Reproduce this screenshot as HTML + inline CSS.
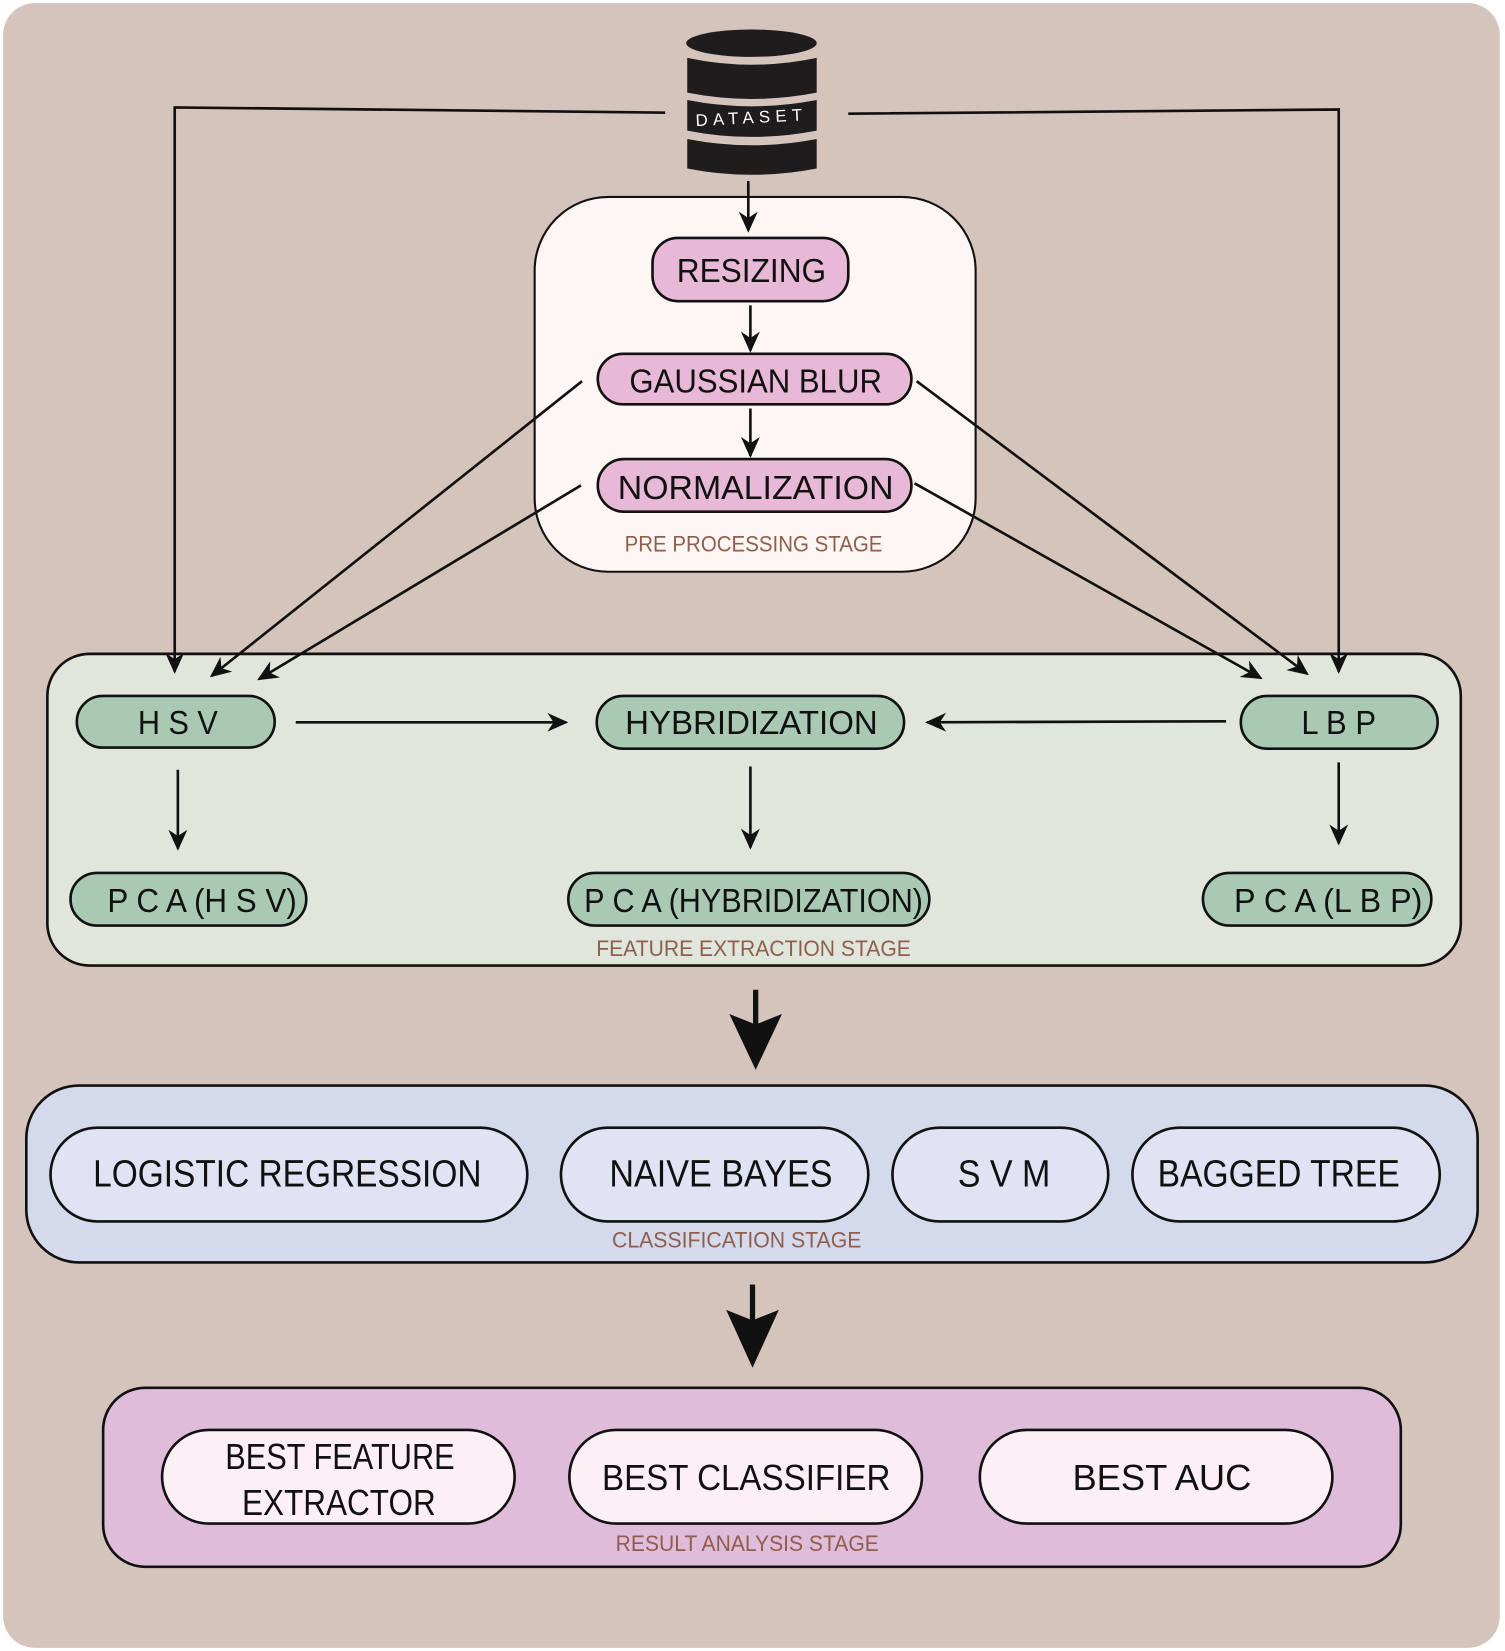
<!DOCTYPE html>
<html><head><meta charset="utf-8"><style>html,body{margin:0;padding:0;background:#fff}svg{display:block}</style></head>
<body>
<svg width="1505" height="1651" viewBox="0 0 1430 1568" preserveAspectRatio="none" xmlns="http://www.w3.org/2000/svg" font-family="Liberation Sans, sans-serif">
<defs>
<marker id="a" viewBox="0 0 20 20" refX="18" refY="10" markerWidth="20" markerHeight="20" markerUnits="userSpaceOnUse" orient="auto">
<path d="M0,1 L20,10 L0,19 L6,10 Z" fill="#111"/></marker>
</defs>
<rect x="3" y="3" width="1422" height="1562" rx="30" fill="#d4c4bc"/>
<g fill="#1e1c1c">
<ellipse cx="714" cy="41" rx="62" ry="13"/>
<path d="M653,55 Q714,68 776,55 L776,88 Q714,100 653,88 Z"/>
<path d="M653,95 Q714,107 776,95 L776,124 Q714,136 653,124 Z"/>
<path d="M653,132 Q714,144 776,132 L776,160 Q714,172 653,160 Z"/>
</g>
<text x="714" y="117" font-size="16" fill="#fff" text-anchor="middle" letter-spacing="5" transform="rotate(-3 714 112)">DATASET</text>
<rect x="508" y="187" width="419" height="356" rx="70" fill="#fdf6f2" stroke="#111" stroke-width="2"/>
<g fill="#e8b9d6" stroke="#111" stroke-width="2.5">
<rect x="620" y="226" width="186" height="60" rx="24"/>
<rect x="568" y="336" width="298" height="48" rx="24"/>
<rect x="568" y="436" width="298" height="50" rx="25"/>
</g>
<g font-size="32" fill="#111" text-anchor="middle">
<text x="714" y="268" textLength="142" lengthAdjust="spacingAndGlyphs">RESIZING</text>
<text x="718" y="373" textLength="240" lengthAdjust="spacingAndGlyphs">GAUSSIAN BLUR</text>
<text x="718" y="474" textLength="262" lengthAdjust="spacingAndGlyphs">NORMALIZATION</text>
</g>
<text x="716" y="524" font-size="21" fill="#8f5e4d" text-anchor="middle" textLength="245" lengthAdjust="spacingAndGlyphs">PRE PROCESSING STAGE</text>
<rect x="45" y="621" width="1343" height="296" rx="40" fill="#e1e6dc" stroke="#111" stroke-width="2.5"/>
<g fill="#a9c9b5" stroke="#111" stroke-width="2.5">
<rect x="73" y="661" width="188" height="49" rx="24.5"/>
<rect x="567" y="661" width="292" height="50" rx="25"/>
<rect x="1179" y="661" width="187" height="50" rx="25"/>
<rect x="67" y="829" width="224" height="50" rx="25"/>
<rect x="540" y="829" width="343" height="50" rx="25"/>
<rect x="1143" y="829" width="217" height="50" rx="25"/>
</g>
<g font-size="32" fill="#111" text-anchor="middle">
<text x="169" y="697" textLength="76" lengthAdjust="spacingAndGlyphs">H S V</text>
<text x="714" y="697" textLength="240" lengthAdjust="spacingAndGlyphs">HYBRIDIZATION</text>
<text x="1272" y="697" textLength="71" lengthAdjust="spacingAndGlyphs">L B P</text>
<text x="192" y="866" textLength="180" lengthAdjust="spacingAndGlyphs">P C A (H S V)</text>
<text x="716" y="866" textLength="322" lengthAdjust="spacingAndGlyphs">P C A (HYBRIDIZATION)</text>
<text x="1262" y="866" textLength="179" lengthAdjust="spacingAndGlyphs">P C A (L B P)</text>
</g>
<text x="716" y="908" font-size="21" fill="#8f5e4d" text-anchor="middle" textLength="299" lengthAdjust="spacingAndGlyphs">FEATURE EXTRACTION STAGE</text>
<rect x="25" y="1031" width="1379" height="168" rx="50" fill="#d4d9ec" stroke="#111" stroke-width="2.5"/>
<g fill="#dfe3f3" stroke="#111" stroke-width="2.5">
<rect x="48" y="1071" width="453" height="89" rx="44.5"/>
<rect x="533" y="1071" width="292" height="89" rx="44.5"/>
<rect x="848" y="1071" width="205" height="89" rx="44.5"/>
<rect x="1076" y="1071" width="292" height="89" rx="44.5"/>
</g>
<g font-size="36" fill="#111" text-anchor="middle">
<text x="273" y="1127" textLength="369" lengthAdjust="spacingAndGlyphs">LOGISTIC REGRESSION</text>
<text x="685" y="1127" textLength="212" lengthAdjust="spacingAndGlyphs">NAIVE BAYES</text>
<text x="954" y="1127" textLength="88" lengthAdjust="spacingAndGlyphs">S V M</text>
<text x="1215" y="1127" textLength="230" lengthAdjust="spacingAndGlyphs">BAGGED TREE</text>
</g>
<text x="700" y="1185" font-size="21" fill="#8f5e4d" text-anchor="middle" textLength="237" lengthAdjust="spacingAndGlyphs">CLASSIFICATION STAGE</text>
<rect x="98" y="1318" width="1233" height="170" rx="40" fill="#dfbcd9" stroke="#111" stroke-width="2.5"/>
<g fill="#fcf0f6" stroke="#111" stroke-width="2.5">
<rect x="154" y="1358" width="335" height="89" rx="44.5"/>
<rect x="541" y="1358" width="335" height="89" rx="44.5"/>
<rect x="931" y="1358" width="335" height="89" rx="44.5"/>
</g>
<g font-size="34" fill="#111" text-anchor="middle">
<text x="323" y="1395" textLength="218" lengthAdjust="spacingAndGlyphs">BEST FEATURE</text>
<text x="322" y="1439" textLength="184" lengthAdjust="spacingAndGlyphs">EXTRACTOR</text>
<text x="709" y="1415" textLength="274" lengthAdjust="spacingAndGlyphs">BEST CLASSIFIER</text>
<text x="1104" y="1415" textLength="170" lengthAdjust="spacingAndGlyphs">BEST  AUC</text>
</g>
<text x="710" y="1473" font-size="21" fill="#8f5e4d" text-anchor="middle" textLength="250" lengthAdjust="spacingAndGlyphs">RESULT ANALYSIS STAGE</text>
<g stroke="#111" stroke-width="2.5" fill="none" marker-end="url(#a)">
<polyline points="632,107 166,102 166,638"/>
<polyline points="806,108 1272,104 1272,638"/>
<line x1="711" y1="172" x2="711" y2="219"/>
<line x1="713" y1="290" x2="713" y2="333"/>
<line x1="713" y1="388" x2="713" y2="433"/>
<line x1="553" y1="362" x2="201" y2="642"/>
<line x1="552" y1="461" x2="246" y2="645"/>
<line x1="871" y1="362" x2="1242" y2="640"/>
<line x1="869" y1="459" x2="1198" y2="644"/>
<line x1="281" y1="686" x2="538" y2="686"/>
<line x1="1165" y1="685" x2="881" y2="686"/>
<line x1="169" y1="731" x2="169" y2="806"/>
<line x1="713" y1="728" x2="713" y2="805"/>
<line x1="1272" y1="724" x2="1272" y2="801"/>
</g>
<g stroke="#111" stroke-width="5">
<line x1="718" y1="940" x2="718" y2="975"/>
<line x1="715" y1="1220" x2="715" y2="1258"/>
</g>
<g fill="#111">
<path d="M693,963 L718,973 L743,963 L718,1016 Z"/>
<path d="M690,1244 L715,1254 L740,1244 L715,1299 Z"/>
</g>
</svg>
</body></html>
